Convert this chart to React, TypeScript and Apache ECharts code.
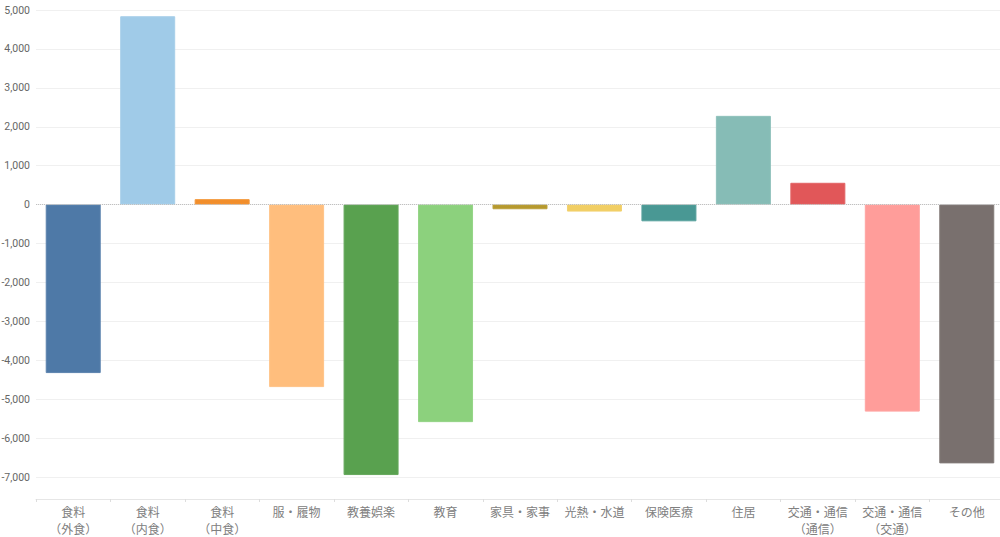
import { useEffect, useRef } from 'react';
import * as echarts from 'echarts';

const categories = [
  '食料\n（外食）',
  '食料\n（内食）',
  '食料\n（中食）',
  '服・履物',
  '教養娯楽',
  '教育',
  '家具・家事',
  '光熱・水道',
  '保険医療',
  '住居',
  '交通・通信\n（通信）',
  '交通・通信\n（交通）',
  'その他',
];

const values = [-4330, 4840, 140, -4690, -6950, -5590, -120, -180, -430, 2280, 560, -5320, -6650];

const colors = [
  '#4e79a7',
  '#a0cbe8',
  '#f28e2b',
  '#ffbe7d',
  '#59a14f',
  '#8cd17d',
  '#b6992d',
  '#f1ce63',
  '#499894',
  '#86bcb6',
  '#e15759',
  '#ff9d9a',
  '#79706e',
];

const yMin = -7000;
const yMax = 5000;
const yStep = 1000;

export default function App() {
  const chartRef = useRef<HTMLDivElement>(null);
  useEffect(() => {
    if (!chartRef.current) return;
    const chart = echarts.init(chartRef.current, undefined, { renderer: 'svg' });
    chart.setOption({
      animation: false,
      textStyle: { fontFamily: '"Noto Sans CJK JP", "Noto Sans", sans-serif' },
      grid: { left: 36, top: 10, width: 968, bottom: 60, containLabel: false, outerBoundsMode: 'none' },
      xAxis: {
        type: 'category',
        data: categories,
        offset: 22,
        axisLine: { show: true, onZero: false, lineStyle: { color: '#e6e6e6', width: 1 } },
        axisTick: { show: true, alignWithLabel: false, length: 3, lineStyle: { color: '#dddddd' } },
        axisLabel: {
          interval: 0,
          margin: 4,
          fontSize: 12,
          lineHeight: 17,
          color: '#808080',
        },
        splitLine: { show: false },
      },
      yAxis: {
        type: 'value',
        min: yMin,
        max: yMax,
        interval: yStep,
        axisLine: { show: false },
        axisTick: { show: false },
        axisLabel: {
          margin: 6,
          fontSize: 10.5,
          color: '#666',
          fontFamily: 'Roboto, sans-serif',
          formatter: (v: number) => v.toLocaleString('en-US'),
        },
        splitLine: { lineStyle: { color: '#f0f0f0', width: 1 } },
      },
      series: [
        {
          type: 'bar',
          barWidth: 55,
          data: values.map((v, i) => ({
            value: v,
            itemStyle: {
              color: colors[i],
              borderColor: echarts.color.lift(colors[i], 0.08),
              borderWidth: 1,
            },
          })),
          markLine: {
            silent: true,
            symbol: 'none',
            label: { show: false },
            lineStyle: { type: 'dotted', color: '#c0c0c0', width: 1 },
            data: [{ yAxis: 0 }],
          },
        },
      ],
    });
    return () => {
      chart.dispose();
    };
  }, []);
  return (
    <div
      ref={chartRef}
      style={{ position: 'absolute', left: 0, top: 0, width: 1000, height: 537, background: '#fff' }}
    />
  );
}
